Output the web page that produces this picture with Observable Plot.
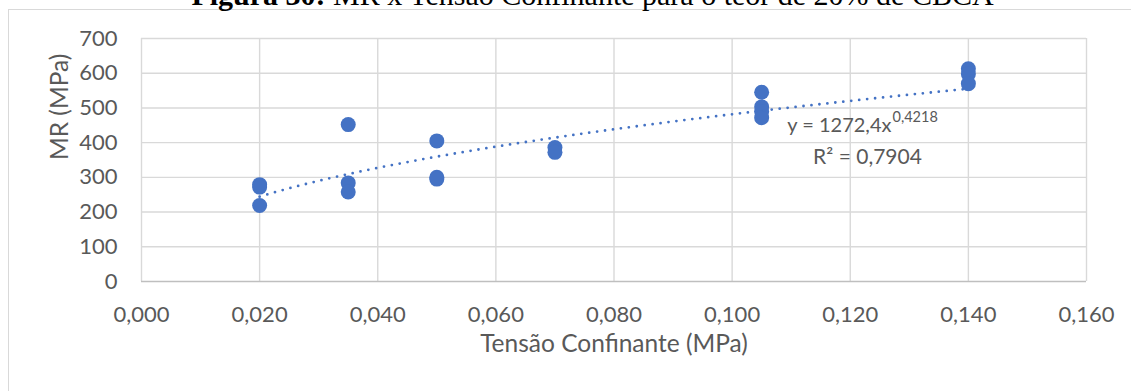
<!DOCTYPE html>
<html>
<head>
<meta charset="utf-8">
<script src="https://cdn.jsdelivr.net/npm/d3@7"></script>
<script src="https://cdn.jsdelivr.net/npm/@observablehq/plot@0.6"></script>
<style>
  html, body { margin: 0; padding: 0; background: #fff; }
  body { width: 1131px; height: 391px; position: relative; overflow: hidden; }
  #title { position: absolute; left: 27px; width: 1131px; top: -20px; text-align: center;
           font-family: "Liberation Serif", "Times New Roman", serif; font-size: 30px; line-height: 30px;
           color: #000; white-space: nowrap; }
  #border { position: absolute; left: 8px; top: 9px; width: 1300px; height: 600px;
            border: 1.5px solid #d9d9d9; box-sizing: border-box; }
  #chart { position: absolute; left: 0; top: 0; }
</style>
</head>
<body>
<div id="border"></div>
<div id="title"><b>Figura 30:</b> MR x Tensão Confinante para o teor de 20% de CBCA</div>
<div id="chart"></div>
<script>
// ---- data ----
const tensao = [0.020, 0.020, 0.020,
                0.035, 0.035, 0.035,
                0.050, 0.050, 0.050,
                0.070, 0.070,
                0.105, 0.105, 0.105, 0.105,
                0.140, 0.140, 0.140];
const mr     = [279, 272, 219,
                452, 284, 258,
                405, 300, 295,
                386, 372,
                545, 503, 490, 472,
                613, 598, 570];
const xTicks = [0, 0.02, 0.04, 0.06, 0.08, 0.10, 0.12, 0.14, 0.16];
const yTicks = [0, 100, 200, 300, 400, 500, 600, 700];
// power trendline from the chart's equation
const trendA = 1272.4, trendB = 0.4218;
const trendRange = [0.020, 0.140];
const eqMain = "y = 1272,4x", eqExp = "0,4218", eqR2 = "R² = 0,7904";
const eqPos = {x: 0.12698, y1: 447.7, x2: 0.12292, y2: 358.8};

const points = tensao.map((t, i) => ({t, mr: mr[i]}));
const trend = d3.range(trendRange[0], trendRange[1] + 1e-9, 0.0005).map(t => ({t, mr: trendA * Math.pow(t, trendB)}));

const fmtX = d => d.toFixed(3).replace(".", ",");
const grey = "#595959";
const blue = "#4472C4";

const chart = Plot.plot({
  width: 1131,
  height: 391,
  marginLeft: 141,
  marginRight: 45,
  marginTop: 38,
  marginBottom: 110,
  style: {fontFamily: "Lato, 'Open Sans', sans-serif", fontSize: "22px", color: grey, background: "transparent", overflow: "visible"},
  x: {domain: [0, 0.16]},
  y: {domain: [0, 700]},
  marks: [
    Plot.ruleX(xTicks, {stroke: "#d9d9d9", strokeWidth: 1.4}),
    Plot.ruleY(yTicks.filter(d => d > 0), {stroke: "#d9d9d9", strokeWidth: 1.4}),
    Plot.ruleY([0], {stroke: "#bfbfbf", strokeWidth: 1.5}),
    Plot.axisX({ticks: xTicks, tickFormat: fmtX, tickSize: 0, tickPadding: 25, label: null, fill: grey, fontSize: 22}),
    Plot.axisY({ticks: yTicks, tickFormat: d => String(d), tickSize: 0, tickPadding: 24, label: null, fill: grey, fontSize: 22}),
    Plot.text(["Tensão Confinante (MPa)"], {frameAnchor: "bottom", dy: 70, fill: grey, fontSize: 24.5}),
    Plot.text(["MR (MPa)"], {frameAnchor: "left", dx: -81, rotate: -90, fill: grey, fontSize: 24.5}),
    Plot.dot(points, {x: "t", y: "mr", r: 7.5, fill: blue, stroke: "none"}),
    Plot.line(trend, {x: "t", y: "mr", stroke: blue, strokeWidth: 2.8, strokeDasharray: "0 8", strokeLinecap: "round", curve: "linear"}),
    Plot.text([eqMain], {x: () => eqPos.x, y: () => eqPos.y1, textAnchor: "end", fill: grey, fontSize: 20}),
    Plot.text([eqExp], {x: () => eqPos.x, y: () => eqPos.y1, textAnchor: "start", dx: 1, dy: -9, fill: grey, fontSize: 14.5}),
    Plot.text([eqR2], {x: () => eqPos.x2, y: () => eqPos.y2, textAnchor: "middle", fill: grey, fontSize: 21})
  ]
});
document.getElementById("chart").appendChild(chart);
</script>
</body>
</html>
